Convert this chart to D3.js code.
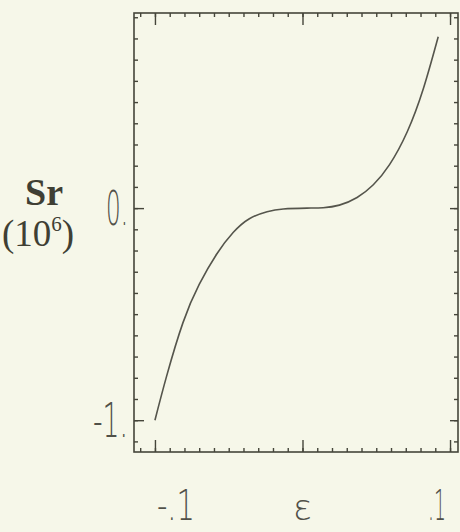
<!DOCTYPE html>
<html>
<head>
<meta charset="utf-8">
<script src="https://cdn.jsdelivr.net/npm/d3@7"></script>
<style>
  html, body { margin: 0; padding: 0; background: #f6f7e9; }
  svg { display: block; }
</style>
</head>
<body>
<svg id="chart" width="460" height="532"></svg>
<script>
// ---- data ----
const epsValues = [-0.1, -0.092, -0.081, -0.07, -0.058, -0.047, -0.036, -0.024, -0.013, 0.003, 0.014, 0.025, 0.037, 0.048, 0.059, 0.071, 0.082, 0.092];
const srValues  = [-1.0, -0.79, -0.54, -0.36, -0.215, -0.115, -0.05, -0.017, -0.004, 0.0, 0.002, 0.014, 0.05, 0.11, 0.205, 0.36, 0.565, 0.808];
const xMajorTicks = [-0.1, 0, 0.1];
const xTickLabels = ["-.1", "", ".1"];
const yMajorTicks = [-1, 0];
const yTickLabels = ["-1.", "0."];
const xMinorTicks = d3.range(-11, 11).map(i => i / 100);
const yMinorTicks = d3.range(-11, 10).map(i => i / 10);

const svg = d3.select("#chart");
const ink = "#45453a";
const mLeft = 134, mRight = 458, mTop = 13, mBottom = 452;

const x = d3.scaleLinear().domain([-0.1142, 0.1054]).range([mLeft, mRight]);
const y = d3.scaleLinear().domain([-1.15, 0.92]).range([mBottom, mTop]);

svg.append("rect").attr("width", 460).attr("height", 532).attr("fill", "#f6f7e9");

// frame
svg.append("rect")
  .attr("x", mLeft).attr("y", mTop)
  .attr("width", mRight - mLeft).attr("height", mBottom - mTop)
  .attr("fill", "none").attr("stroke", ink).attr("stroke-width", 1.6);

function styleAxis(g) {
  g.select(".domain").remove();
  g.selectAll("line").attr("stroke", ink).attr("stroke-width", 1.4);
  g.selectAll("text").remove();
}
// bottom
svg.append("g").attr("transform", `translate(0,${mBottom})`)
  .call(d3.axisTop(x).tickValues(xMinorTicks).tickSize(4)).call(styleAxis);
svg.append("g").attr("transform", `translate(0,${mBottom})`)
  .call(d3.axisTop(x).tickValues(xMajorTicks).tickSize(12)).call(styleAxis);
// top
svg.append("g").attr("transform", `translate(0,${mTop})`)
  .call(d3.axisBottom(x).tickValues(xMinorTicks).tickSize(4)).call(styleAxis);
svg.append("g").attr("transform", `translate(0,${mTop})`)
  .call(d3.axisBottom(x).tickValues(xMajorTicks).tickSize(12)).call(styleAxis);
// left
svg.append("g").attr("transform", `translate(${mLeft},0)`)
  .call(d3.axisRight(y).tickValues(yMinorTicks).tickSize(4)).call(styleAxis);
svg.append("g").attr("transform", `translate(${mLeft},0)`)
  .call(d3.axisRight(y).tickValues(yMajorTicks).tickSize(10)).call(styleAxis);
// right
svg.append("g").attr("transform", `translate(${mRight},0)`)
  .call(d3.axisLeft(y).tickValues(yMinorTicks).tickSize(4)).call(styleAxis);
svg.append("g").attr("transform", `translate(${mRight},0)`)
  .call(d3.axisLeft(y).tickValues(yMajorTicks).tickSize(8)).call(styleAxis);

// curve
const pts = epsValues.map((e, i) => [e, srValues[i]]);
svg.append("path")
  .datum(pts)
  .attr("fill", "none")
  .attr("stroke", "#55554c")
  .attr("stroke-width", 1.6)
  .attr("d", d3.line().x(d => x(d[0])).y(d => y(d[1])).curve(d3.curveNatural));

// tick labels (tall narrow stroke-like font)
const tickFont = "'DejaVu Sans', sans-serif";
const yLabelWidths = [35, 22];
yMajorTicks.forEach((v, i) => {
  svg.append("text")
    .attr("x", 128).attr("y", y(v) + 17)
    .attr("text-anchor", "end")
    .attr("font-family", tickFont).attr("font-size", 48).attr("font-weight", 200)
    .attr("textLength", yLabelWidths[i]).attr("lengthAdjust", "spacingAndGlyphs")
    .attr("fill", "#505048")
    .text(yTickLabels[i]);
});
// right ends of the x tick labels, relative to their tick
const xLabelEndOffsets = [40, 0, -4];
const xLabelWidths = [38, 0, 18];
xMajorTicks.forEach((v, i) => {
  if (!xTickLabels[i]) return;
  svg.append("text")
    .attr("x", x(v) + xLabelEndOffsets[i]).attr("y", 520)
    .attr("text-anchor", "end")
    .attr("font-family", tickFont).attr("font-size", 43).attr("font-weight", 200)
    .attr("textLength", xLabelWidths[i]).attr("lengthAdjust", "spacingAndGlyphs")
    .attr("fill", "#505048")
    .text(xTickLabels[i]);
});

// x axis title
svg.append("text")
  .attr("x", x(0)).attr("y", 520)
  .attr("text-anchor", "middle")
  .attr("font-family", tickFont).attr("font-size", 36).attr("font-weight", 200)
  .attr("fill", "#505048")
  .text("ε");

// y axis title
svg.append("text")
  .attr("x", 44).attr("y", 205)
  .attr("text-anchor", "middle")
  .attr("font-family", "'Liberation Serif', serif").attr("font-size", 38).attr("font-weight", "bold")
  .attr("fill", "#3f3f34")
  .text("Sr");
const unit = svg.append("text")
  .attr("x", 2).attr("y", 246)
  .attr("font-family", "'Liberation Serif', serif").attr("font-size", 37)
  .attr("fill", "#3f3f34");
unit.append("tspan").text("(10");
unit.append("tspan").attr("font-size", 21).attr("dy", -15).text("6");
unit.append("tspan").attr("dy", 15).text(")");
</script>
</body>
</html>
